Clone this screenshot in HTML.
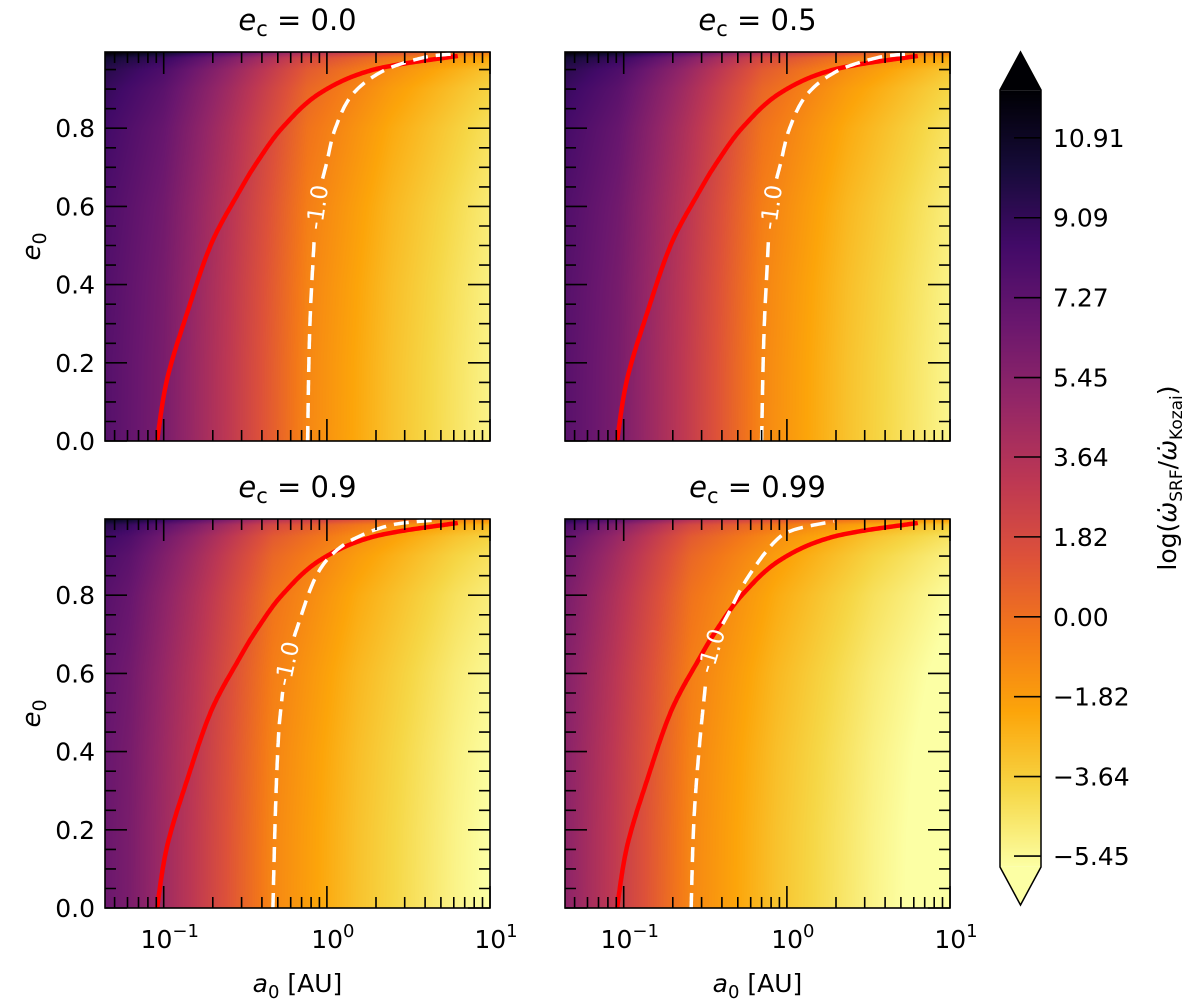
<!DOCTYPE html>
<html><head><meta charset="utf-8">
<style>
html,body{margin:0;padding:0;background:#fff;}
#wrap{position:relative;width:1200px;height:1002px;overflow:hidden;}
canvas,svg{position:absolute;left:0;top:0;}
text{font-family:"DejaVu Sans","Liberation Sans",sans-serif;fill:#000;}
</style></head>
<body>
<div id="wrap">
<canvas id="cv" width="1200" height="1002"></canvas>
<svg id="sv" width="1200" height="1002" xmlns="http://www.w3.org/2000/svg"></svg>
</div>
<script>
// ---- data ----
const ecLabels = ["0.0", "0.5", "0.9", "0.99"];
const baseLogA = [-1.36, -1.0, -0.6, -0.118, 0.4, 1.0, 1.5];
const baseValues = [7.6, 6.0, 3.0, -1.0, -3.2, -5.2, -6.5];
const eccNodes = [0, 0.2, 0.4, 0.6, 0.8, 0.9, 0.95, 0.98, 0.995];
const eccBoost = [0, 0.03, 0.14, 0.37, 0.84, 1.37, 1.95, 2.9, 4.8];
const panelLogShift = [0, -0.032, -0.213, -0.469];
const redE = [0, 0.159, 0.331, 0.503, 0.632, 0.718, 0.804, 0.89, 0.95, 0.985];
const redA = [0.091, 0.105, 0.14, 0.195, 0.285, 0.38, 0.54, 0.91, 1.94, 6.35];
const contE1 = [0, 0.243, 0.414, 0.598, 0.714, 0.80, 0.885, 0.945, 0.98, 0.99];
const contA1 = [0.762, 0.78, 0.811, 0.871, 1.0, 1.127, 1.426, 2.178, 3.837, 5.86];
const contE2 = [0, 0.243, 0.414, 0.598, 0.714, 0.80, 0.885, 0.945, 0.98, 0.99];
const contA2 = [0.70, 0.72, 0.75, 0.80, 0.92, 1.04, 1.32, 2.01, 3.54, 5.41];
const contE3 = [0, 0.238, 0.409, 0.495, 0.625, 0.741, 0.844, 0.904, 0.946, 0.98, 0.993];
const contA3 = [0.467, 0.483, 0.501, 0.518, 0.569, 0.687, 0.849, 1.074, 1.496, 2.512, 4.853];
const contE4 = [0, 0.245, 0.503, 0.658, 0.76, 0.847, 0.933, 0.967, 0.989];
const contA4 = [0.259, 0.271, 0.305, 0.344, 0.447, 0.579, 0.826, 1.099, 1.941];
const contourLabelE = [0.598, 0.598, 0.625, 0.658];
const contourLevelText = "-1.0";
const yTickValues = [0, 0.2, 0.4, 0.6, 0.8];
const yTickLabels = ["0.0", "0.2", "0.4", "0.6", "0.8"];
const xTickExps = [-1, 0, 1];
const xTickLabels = ["\u22121", "0", "1"];
const cbTicks = [10.91, 9.09, 7.27, 5.45, 3.64, 1.82, 0, -1.82, -3.64, -5.45];
const cbTickLabels = ["10.91", "9.09", "7.27", "5.45", "3.64", "1.82", "0.00", "\u22121.82", "\u22123.64", "\u22125.45"];
const infernoStops = ["#000004","#160b39","#420a68","#6a176e","#932667","#bc3754","#dd513a","#f37819","#fca50a","#f6d746","#fcffa4"];

// ---- layout ----
const PW = 385, PH = 389;
const panels = [[105, 52], [565, 52], [105, 519], [565, 519]];
const UMIN = -1.36, UMAX = 1.0, EMAX = 0.995;
const VMAX = 12.0, VMIN = -5.7;
const CB = {x: 1000, w: 41, y0: 90, y1: 867, top: 52, bot: 905};
const conts = [[contE1, contA1], [contE2, contA2], [contE3, contA3], [contE4, contA4]];

function interp(xs, ys, x) {
  if (x <= xs[0]) return ys[0];
  for (let i = 1; i < xs.length; i++) if (x <= xs[i]) {
    const t = (x - xs[i-1]) / (xs[i] - xs[i-1]); return ys[i-1] + t * (ys[i] - ys[i-1]);
  }
  return ys[ys.length - 1];
}
function hex(h) { return [parseInt(h.substr(1,2),16), parseInt(h.substr(3,2),16), parseInt(h.substr(5,2),16)]; }
const stopsRGB = infernoStops.map(hex);
function inferno(t) {
  t = Math.max(0, Math.min(1, t)); const f = t * 10; const i = Math.min(9, Math.floor(f)); const r = f - i;
  const a = stopsRGB[i], b = stopsRGB[i+1];
  return [a[0]+(b[0]-a[0])*r, a[1]+(b[1]-a[1])*r, a[2]+(b[2]-a[2])*r];
}
function valColor(v) { return inferno((VMAX - v) / (VMAX - VMIN)); }
function xOf(p, a) { return panels[p][0] + (Math.log10(a) - UMIN) / (UMAX - UMIN) * PW; }
function xOfU(p, u) { return panels[p][0] + (u - UMIN) / (UMAX - UMIN) * PW; }
function yOf(p, e) { return panels[p][1] + PH - e / EMAX * PH; }
function cbY(v) { return CB.y0 + (VMAX - v) / (VMAX - VMIN) * (CB.y1 - CB.y0); }
function smooth(pts) {
  const out = [];
  for (let i = 0; i < pts.length - 1; i++) {
    const p0 = pts[Math.max(0, i-1)], p1 = pts[i], p2 = pts[i+1], p3 = pts[Math.min(pts.length-1, i+2)];
    const n = Math.max(2, Math.ceil(Math.hypot(p2[0]-p1[0], p2[1]-p1[1]) / 2));
    for (let s = (i === 0 ? 0 : 1); s <= n; s++) {
      const t = s / n, t2 = t*t, t3 = t2*t;
      const f = k => 0.5 * ((2*p1[k]) + (-p0[k]+p2[k])*t + (2*p0[k]-5*p1[k]+4*p2[k]-p3[k])*t2 + (-p0[k]+3*p1[k]-3*p2[k]+p3[k])*t3);
      out.push([f(0), f(1)]);
    }
  }
  return out;
}

// ---- heatmaps ----
const cv = document.getElementById('cv'); const ctx = cv.getContext('2d');
const img = ctx.createImageData(1200, 1002);
for (let p = 0; p < 4; p++) {
  const [x0, y0] = panels[p];
  for (let j = 0; j < PH; j++) {
    const e = (PH - j - 0.5) / PH * EMAX; const g = interp(eccNodes, eccBoost, e);
    for (let i = 0; i < PW; i++) {
      const u = UMIN + (i + 0.5) / PW * (UMAX - UMIN);
      const c = valColor(interp(baseLogA, baseValues, u - panelLogShift[p]) + g);
      const k = ((y0 + j) * 1200 + x0 + i) * 4;
      img.data[k] = c[0]; img.data[k+1] = c[1]; img.data[k+2] = c[2]; img.data[k+3] = 255;
    }
  }
}
for (let y = CB.y0; y < CB.y1; y++) {
  const v = VMAX - (y + 0.5 - CB.y0) / (CB.y1 - CB.y0) * (VMAX - VMIN); const c = valColor(v);
  for (let x = CB.x; x < CB.x + CB.w; x++) { const k = (y*1200+x)*4; img.data[k]=c[0]; img.data[k+1]=c[1]; img.data[k+2]=c[2]; img.data[k+3]=255; }
}
ctx.putImageData(img, 0, 0);

// ---- svg overlay ----
const NS = "http://www.w3.org/2000/svg"; const sv = document.getElementById('sv');
function mk(tag, attrs, parent) { const el = document.createElementNS(NS, tag); for (const k in attrs) el.setAttribute(k, attrs[k]); (parent || sv).appendChild(el); return el; }

for (let p = 0; p < 4; p++) {
  const [x0, y0] = panels[p];
  const g = mk('g', {});
  
  
  const rpts = smooth(redE.map((e, i) => [xOf(p, redA[i]), yOf(p, e)]));
  const d = rpts.map((q, i) => (i ? 'L' : 'M') + q[0].toFixed(1) + ',' + q[1].toFixed(1)).join('');
  const red = mk('path', {d: d, fill: 'none', stroke: '#ff0000', 'stroke-width': 4.5, 'stroke-linejoin': 'round'}, g);
  
  
  const [cE, cA] = conts[p];
  const cpts = smooth(cE.map((e, i) => [xOf(p, cA[i]), yOf(p, e)]));
  const le = contourLabelE[p];
  const logs = cA.map(a => Math.log10(a));
  const LX = xOfU(p, interp(cE, logs, le)), LY = yOf(p, le);
  let cd = '', pen = false;
  for (const [x, y] of cpts) {
    if (Math.hypot(x - LX, y - LY) < 28) { pen = false; continue; }
    cd += (pen ? 'L' : 'M') + x.toFixed(1) + ',' + y.toFixed(1); pen = true;
  }
  const ct = mk('path', {d: cd, fill: 'none', stroke: '#ffffff', 'stroke-width': 3.5, 'stroke-dasharray': '15 8'}, g);
  
  
  const e2 = Math.min(0.99, le + 0.03), e1 = Math.max(0, le - 0.03);
  const x1 = xOfU(p, interp(cE, logs, e1)), y1 = yOf(p, e1);
  const x2 = xOfU(p, interp(cE, logs, e2)), y2 = yOf(p, e2);
  const ang = Math.atan2(y2 - y1, x2 - x1) * 180 / Math.PI;
  const lt = mk('text', {x: LX, y: LY + 8, 'text-anchor': 'middle', 'font-size': 23, style: 'fill:#ffffff', transform: `rotate(${ang.toFixed(1)} ${LX.toFixed(1)} ${LY.toFixed(1)})`}, g);
  lt.textContent = contourLevelText;
  
  
  const fr = mk('rect', {x: x0, y: y0, width: PW, height: PH, fill: 'none', stroke: '#000', 'stroke-width': 1.6}, g);
  
  
  let td = '';
  for (let k = -2; k <= 1; k++) for (let m = 1; m <= 9; m++) {
    const u = k + Math.log10(m); if (u < UMIN - 1e-6 || u > UMAX + 1e-6) continue;
    const x = xOfU(p, u); const L = m === 1 ? 22 : 11;
    td += `M${x.toFixed(1)},${y0+PH}v${-L}M${x.toFixed(1)},${y0}v${L}`;
  }
  for (let q = 0; q <= 19; q++) {
    const e = q * 0.05; const y = yOf(p, e); const L = q % 4 === 0 ? 22 : 11;
    td += `M${x0},${y.toFixed(1)}h${L}M${x0+PW},${y.toFixed(1)}h${-L}`;
  }
  const tk = mk('path', {d: td, stroke: '#000', 'stroke-width': 1.6, fill: 'none'}, g);
  
  
  const tt = mk('text', {x: x0 + PW/2, y: y0 - 22, 'text-anchor': 'middle', 'font-size': 29}, g);
  tt.innerHTML = `<tspan font-style="italic">e</tspan><tspan font-size="21" dy="6">c</tspan><tspan dy="-6"> = ${ecLabels[p]}</tspan>`;
  
  
  if (p % 2 === 0) {
    yTickValues.forEach((v, i) => {
      const t = mk('text', {x: x0 - 10, y: yOf(p, v) + 9, 'text-anchor': 'end', 'font-size': 25}, g);
      t.textContent = yTickLabels[i];
      
      
    });
    const yl = mk('text', {x: 0, y: 0, 'text-anchor': 'middle', 'font-size': 26, transform: `translate(40 ${y0 + PH/2}) rotate(-90)`}, g);
    yl.innerHTML = `<tspan font-style="italic">e</tspan><tspan font-size="19" dy="6">0</tspan>`;
    
    
  }
  if (p >= 2) {
    xTickExps.forEach((k, i) => {
      const t = mk('text', {x: xOfU(p, k) + 6, y: y0 + PH + 40, 'text-anchor': 'middle', 'font-size': 25}, g);
      t.innerHTML = `10<tspan font-size="18" dy="-11">${xTickLabels[i]}</tspan>`;
      
      
    });
    const xl = mk('text', {x: x0 + PW/2, y: y0 + PH + 84, 'text-anchor': 'middle', 'font-size': 25}, g);
    xl.innerHTML = `<tspan font-style="italic">a</tspan><tspan font-size="18" dy="6">0</tspan><tspan dy="-6"> [AU]</tspan>`;
    
    
  }
}

const cbg = mk('g', {});


const cx = CB.x + CB.w/2;
const triTop = mk('path', {d: `M${CB.x},${CB.y0}L${cx},${CB.top}L${CB.x+CB.w},${CB.y0}Z`, fill: infernoStops[0]}, cbg);


const triBot = mk('path', {d: `M${CB.x},${CB.y1}L${cx},${CB.bot}L${CB.x+CB.w},${CB.y1}Z`, fill: infernoStops[10]}, cbg);


const outl = mk('path', {d: `M${CB.x},${CB.y0}L${cx},${CB.top}L${CB.x+CB.w},${CB.y0}V${CB.y1}L${cx},${CB.bot}L${CB.x},${CB.y1}Z`, fill: 'none', stroke: '#000', 'stroke-width': 1.5}, cbg);


cbTicks.forEach((v, i) => {
  const y = cbY(v);
  const l = mk('line', {x1: CB.x + 14, x2: CB.x + CB.w, y1: y, y2: y, stroke: '#000', 'stroke-width': 1.6}, cbg);
  
  
  const t = mk('text', {x: CB.x + CB.w + 12, y: y + 9, 'font-size': 25}, cbg);
  t.textContent = cbTickLabels[i];
  
  
});
const cbl = mk('text', {x: 0, y: 0, 'text-anchor': 'middle', 'font-size': 25, transform: `translate(1176 478) rotate(-90)`}, cbg);
cbl.innerHTML = `log(<tspan font-style="italic">ω̇</tspan><tspan font-size="17" dy="6">SRF</tspan><tspan dy="-6">/</tspan><tspan font-style="italic">ω̇</tspan><tspan font-size="17" dy="6">Kozai</tspan><tspan dy="-6">)</tspan>`;


</script>
</body></html>
